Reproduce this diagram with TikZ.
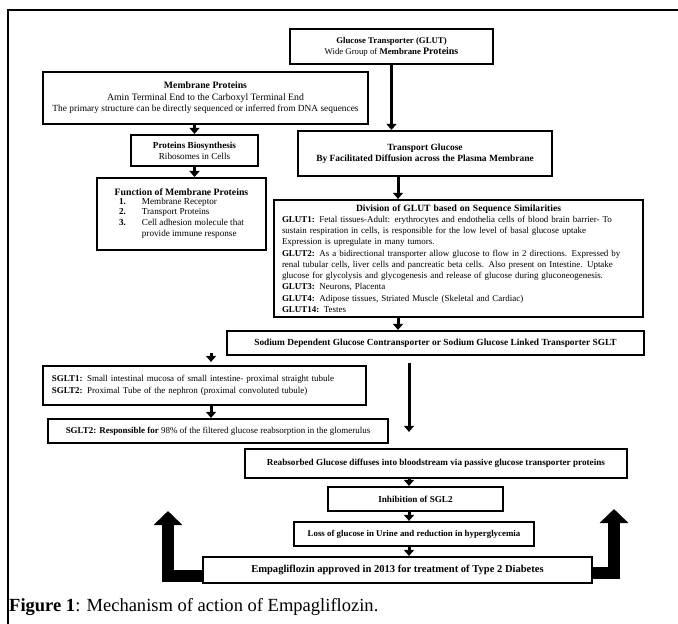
\documentclass[tikz,border=0pt]{standalone}
\usepackage{fontspec}
\setmainfont{Liberation Serif}
\usetikzlibrary{arrows.meta,calc}
\tikzset{
  box/.style={draw=black, line width=2.2bp, fill=white, align=center, inner sep=3bp, font=\fontsize{9.2}{11}\selectfont},
  arrow/.style={-{Triangle[width=10bp,length=6bp]}, line width=3bp},
  bigarrow/.style={-{Triangle[width=28bp,length=14bp]}, line width=12bp},
  frame/.style={line width=1.2bp}
}

\begin{document}
\begin{tikzpicture}[x=1bp, y=-1bp]
\useasboundingbox (0,0) rectangle (678,624);
\draw[frame] (8,624) -- (8,10) -- (678,10);
\coordinate (spine) at (398,0);
\coordinate (spinelow) at (409,0);
\coordinate (leftx) at (211,0);
\coordinate (lefttip) at (168,511);
\coordinate (righttip) at (614,509);
\node[box, minimum width=203bp, minimum height=35bp, font=\fontsize{8.8}{11}\selectfont] (glut) at (391.5,46.5) {\textbf{Glucose Transporter (GLUT)}\\Wide Group of \textbf{Membrane} {\fontsize{10}{11}\selectfont\textbf{Proteins}}};
\node[box, minimum width=325bp, minimum height=52bp, font=\fontsize{9.8}{11.5}\selectfont] (memb) at (205.5,98) {\textbf{Membrane Proteins}\\Amin Terminal End to the Carboxyl Terminal End\\{\fontsize{9.4}{11}\selectfont The primary structure can be directly sequenced or inferred from DNA sequences}};
\node[box, minimum width=127bp, minimum height=31bp] (bios) at (194.5,150.5) {\textbf{Proteins Biosynthesis}\\Ribosomes in Cells};
\node[box, minimum width=169bp, minimum height=72bp, anchor=north, font=\fontsize{9.2}{10.7}\selectfont] (func) at (181.5,177) {{\fontsize{9.8}{11}\selectfont\textbf{Function of Membrane Proteins}}\\
  \begin{tabular}{@{}r@{\hspace{16bp}}l@{}}
  \textbf{1.} & Membrane Receptor\\
  \textbf{2.} & Transport Proteins\\
  \textbf{3.} & Cell adhesion molecule that\\
   & provide immune response
  \end{tabular}};
\node[box, minimum width=254bp, minimum height=45bp, font=\fontsize{9.5}{11.5}\selectfont] (trans) at (425,153.5) {\textbf{Transport Glucose}\\\textbf{By Facilitated Diffusion across the Plasma Membrane}};
\node[box, text width=353bp, minimum height=117bp, align=left, inner xsep=8bp, font=\fontsize{9}{11.3}\selectfont] (div) at (458.5,258.5) {\makebox[353bp]{\fontsize{9.6}{11.3}\selectfont\textbf{Division of GLUT based on Sequence Similarities}}\\
  \textbf{GLUT1:} Fetal tissues-Adult: erythrocytes and endothelia cells of blood brain barrier- To\\
  sustain respiration in cells, is responsible for the low level of basal glucose uptake\\
  Expression is upregulate in many tumors.\\
  \textbf{GLUT2:} As a bidirectional transporter allow glucose to flow in 2 directions. Expressed by\\
  renal tubular cells, liver cells and pancreatic beta cells. Also present on Intestine. Uptake\\
  glucose for glycolysis and glycogenesis and release of glucose during gluconeogenesis.\\
  \textbf{GLUT3:} Neurons, Placenta\\
  \textbf{GLUT4:} Adipose tissues, Striated Muscle (Skeletal and Cardiac)\\
  \textbf{GLUT14:} Testes};
\node[box, minimum width=417bp, minimum height=24bp, font=\fontsize{9.4}{11}\selectfont] (sglt) at (435.5,343) {\textbf{Sodium Dependent Glucose Contransporter or Sodium Glucose Linked Transporter SGLT}};
\node[box, minimum width=323bp, minimum height=39bp, align=left, text width=305bp, font=\fontsize{9}{11.5}\selectfont] (sgltone) at (204.5,385.5) {\textbf{SGLT1:} Small intestinal mucosa of small intestine- proximal straight tubule\\\textbf{SGLT2:} Proximal Tube of the nephron (proximal convoluted tubule)};
\node[box, minimum width=340bp, minimum height=24bp, font=\fontsize{9}{10}\selectfont] (resp) at (218,431) {\textbf{SGLT2: Responsible for} 98\% of the filtered glucose reabsorption in the glomerulus};
\node[box, minimum width=382bp, minimum height=29bp, font=\fontsize{9.2}{10}\selectfont] (reab) at (436,463.5) {\textbf{Reabsorbed Glucose diffuses into bloodstream via passive glucose transporter proteins}};
\node[box, minimum width=175bp, minimum height=24bp, font=\fontsize{9.2}{10}\selectfont] (inhib) at (415.5,499) {\textbf{Inhibition of SGL2}};
\node[box, minimum width=240bp, minimum height=24bp, font=\fontsize{8.9}{10}\selectfont] (loss) at (414,534) {\textbf{Loss of glucose in Urine and reduction in hyperglycemia}};
\node[box, minimum width=389bp, minimum height=26bp, font=\fontsize{10.6}{12}\selectfont] (empa) at (397.5,570) {\textbf{Empagliflozin approved in 2013 for treatment of Type 2 Diabetes}};
\node[anchor=base west, inner sep=0pt, font=\fontsize{18.6}{20}\selectfont] (cap) at (9,611) {\textbf{Figure 1}: Mechanism of action of Empagliflozin.};
\draw[arrow] (memb.south -| bios.north) -- (bios.north);
\draw[arrow] (bios.south) -- (bios.south |- func.north);
\draw[arrow] (glut.south) -- (glut.south |- trans.north);
\draw[arrow] (trans.south -| spine) -- (div.north -| spine);
\draw[arrow] (div.south -| spine) -- (sglt.north -| spine);
\draw[arrow, shorten <=-3bp, shorten >=3bp] (sglt.south -| leftx) -- (sgltone.north -| leftx);
\draw[arrow] (sgltone.south -| leftx) -- (resp.north -| leftx);
\draw[arrow, shorten <=7bp, shorten >=16bp] (sglt.south -| spinelow) -- (reab.north -| spinelow);
\draw[arrow] (reab.south -| spinelow) -- (inhib.north -| spinelow);
\draw[arrow] (inhib.south -| spinelow) -- (loss.north -| spinelow);
\draw[arrow] (loss.south -| spinelow) -- (empa.north -| spinelow);
\draw[bigarrow] ($(empa.west)+(0,6)$) -| (lefttip);
\draw[bigarrow] ($(empa.east)+(0,3)$) -| (righttip);
\end{tikzpicture}
\end{document}
